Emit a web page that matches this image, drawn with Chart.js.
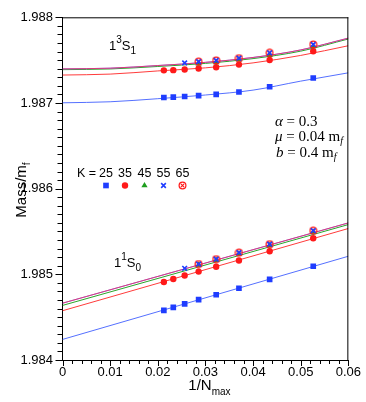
<!DOCTYPE html>
<html>
<head>
<meta charset="utf-8">
<script src="https://cdn.jsdelivr.net/npm/chart.js@4.4.1/dist/chart.umd.min.js"></script>
<style>
  html, body { margin: 0; padding: 0; background: #fff; }
  #wrap { width: 366px; height: 402px; position: relative; }
</style>
</head>
<body>
<div id="wrap"><canvas id="chart"></canvas></div>
<script>
// ===== DATA =====
const N_MAX = [19, 23, 27, 31, 35, 39, 43, 47];          // points run N=19 -> 47
const K_VALUES = ['25', '35', '45', '55', '65'];

// 1^3S_1 (upper group)
const S1_K25 = [1.987291, 1.987189, 1.987128, 1.987101, 1.987086, 1.987076, 1.987068, 1.987064];
const S1_K35 = [1.987603, 1.987501, 1.987448, 1.987417, 1.987402, 1.987391, 1.987383, 1.987381];
const S1_K45 = [1.987660, 1.987558, 1.987505, 1.987474, 1.987459];
const S1_K55 = [1.987683, 1.987585, 1.987523, 1.987497, 1.987482, 1.987467];
const S1_K65 = [1.987683, 1.987585, 1.987523, 1.987497, 1.987482];

// 1^1S_0 (lower group)
const S0_K25 = [1.985094, 1.984941, 1.984838, 1.984762, 1.984705, 1.984655, 1.984614, 1.984579];
const S0_K35 = [1.985421, 1.985269, 1.985162, 1.985089, 1.985032, 1.984986, 1.984945, 1.984911];
const S0_K45 = [1.985494, 1.985338, 1.985240, 1.985166, 1.985110];
const S0_K55 = [1.985509, 1.985352, 1.985253, 1.985177, 1.985120, 1.985070];
const S0_K65 = [1.985509, 1.985352, 1.985253, 1.985177, 1.985120];

// fit curves
const FIT_X_S1 = [0, 0.01, 0.02, 0.03, 0.04, 0.05, 0.06];
const FIT_S1_K25 = [1.987002, 1.987014, 1.987050, 1.987093, 1.987150, 1.987255, 1.987352];
const FIT_S1_K35 = [1.987326, 1.987337, 1.987374, 1.987410, 1.987468, 1.987555, 1.987668];
const FIT_S1_K45 = [1.987389, 1.987397, 1.987426, 1.987462, 1.987518, 1.987605, 1.987747];
const FIT_S1_K55 = [1.987398, 1.987406, 1.987437, 1.987474, 1.987531, 1.987619, 1.987757];
const FIT_S1_K65 = [1.987398, 1.987406, 1.987437, 1.987474, 1.987531, 1.987619, 1.987757];

const FIT_X_S0 = [0, 0.06];
const FIT_S0_K25 = [1.984240, 1.985211];
const FIT_S0_K35 = [1.984575, 1.985535];
const FIT_S0_K45 = [1.984637, 1.985581];
const FIT_S0_K55 = [1.984663, 1.985600];
const FIT_S0_K65 = [1.984663, 1.985600];

const X_TICK_LABELS = ['0', '0.01', '0.02', '0.03', '0.04', '0.05', '0.06'];
const Y_TICK_LABELS = ['1.984', '1.985', '1.986', '1.987', '1.988'];

// ===== STYLE =====
const BLUE  = '#1f3dff';
const RED   = '#ff1a1a';
const GREEN = '#1e9e1e';
const SANS  = '"Liberation Sans", Arial, Helvetica, sans-serif';
const SERIF = '"Liberation Serif", "Times New Roman", serif';

// ⊗ marker for K=65
function makeOtimes() {
  const c = document.createElement('canvas');
  c.width = 9; c.height = 9;
  const g = c.getContext('2d');
  g.strokeStyle = RED;
  g.lineWidth = 1.2;
  g.beginPath(); g.arc(4.5, 4.5, 3.4, 0, Math.PI * 2); g.stroke();
  g.beginPath();
  g.moveTo(2.9, 2.9); g.lineTo(6.1, 6.1);
  g.moveTo(6.1, 2.9); g.lineTo(2.9, 6.1);
  g.stroke();
  return c;
}
const OTIMES = makeOtimes();

const MARKERS = [
  { color: BLUE,  style: 'rect',     radius: 4,   borderWidth: 0 },
  { color: RED,   style: 'circle',   radius: 3.2, borderWidth: 0 },
  { color: GREEN, style: 'triangle', radius: 3.6, borderWidth: 0 },
  { color: BLUE,  style: 'crossRot', radius: 3.3, borderWidth: 1.6 },
  { color: RED,   style: OTIMES,     radius: 4.5, borderWidth: 0 },
];
const LINE_COLORS = ['#5570ff', '#ff3b3b', '#2aa52a', '#6a5cff', 'rgba(255,50,80,0.75)'];

const pts = ys => ys.map((y, i) => ({ x: 1 / N_MAX[i], y }));
const fitPts = (xs, ys) => ys.map((y, i) => ({ x: xs[i], y }));

function pointSet(ys, k, order) {
  const m = MARKERS[k];
  return {
    data: pts(ys),
    showLine: false,
    pointStyle: m.style,
    pointRadius: m.radius,
    pointHoverRadius: m.radius,
    pointBackgroundColor: m.color,
    pointBorderColor: m.color,
    pointBorderWidth: m.borderWidth,
    order,
  };
}
function lineSet(xs, ys, k, curved) {
  return {
    data: fitPts(xs, ys),
    showLine: true,
    pointRadius: 0,
    borderColor: LINE_COLORS[k],
    borderWidth: 1,
    cubicInterpolationMode: curved ? 'monotone' : 'default',
    fill: false,
    order: 20 - k,
  };
}

const datasets = [
  lineSet(FIT_X_S1, FIT_S1_K25, 0, true),
  lineSet(FIT_X_S1, FIT_S1_K35, 1, true),
  lineSet(FIT_X_S1, FIT_S1_K45, 2, true),
  lineSet(FIT_X_S1, FIT_S1_K55, 3, true),
  lineSet(FIT_X_S1, FIT_S1_K65, 4, true),
  lineSet(FIT_X_S0, FIT_S0_K25, 0, false),
  lineSet(FIT_X_S0, FIT_S0_K35, 1, false),
  lineSet(FIT_X_S0, FIT_S0_K45, 2, false),
  lineSet(FIT_X_S0, FIT_S0_K55, 3, false),
  lineSet(FIT_X_S0, FIT_S0_K65, 4, false),
  pointSet(S1_K25, 0, 9), pointSet(S0_K25, 0, 9),
  pointSet(S1_K35, 1, 8), pointSet(S0_K35, 1, 8),
  pointSet(S1_K45, 2, 7), pointSet(S0_K45, 2, 7),
  pointSet(S1_K65, 4, 6), pointSet(S0_K65, 4, 6),
  pointSet(S1_K55, 3, 5), pointSet(S0_K55, 3, 5),
];

// ===== TEXT HELPERS =====
function drawRuns(ctx, runs, x, y) {
  ctx.textAlign = 'left';
  ctx.textBaseline = 'alphabetic';
  runs.forEach(r => {
    ctx.font = r.font;
    ctx.fillText(r.t, x, y + (r.dy || 0));
    x += ctx.measureText(r.t).width + (r.gap || 0);
  });
}
function runsWidth(ctx, runs) {
  return runs.reduce((w, r) => { ctx.font = r.font; return w + ctx.measureText(r.t).width + (r.gap || 0); }, 0);
}

// ===== DECORATION PLUGIN =====
const decor = {
  id: 'decor',
  afterDraw(chart) {
    const ctx = chart.ctx;
    const { left, right, top, bottom } = chart.chartArea;
    const xs = chart.scales.x, ys = chart.scales.y;
    ctx.save();
    ctx.strokeStyle = '#000';
    ctx.lineWidth = 1;

    // frame top + right
    ctx.beginPath();
    ctx.moveTo(left, top + 0.5); ctx.lineTo(right, top + 0.5);
    ctx.moveTo(right - 0.5, top); ctx.lineTo(right - 0.5, bottom);
    ctx.stroke();

    // ticks
    ctx.beginPath();
    xs.ticks.forEach(t => {
      const px = Math.round(xs.getPixelForValue(t.value)) + 0.5;
      const len = t.label ? 6 : 4;
      ctx.moveTo(px, bottom); ctx.lineTo(px, bottom + len);
    });
    ys.ticks.forEach(t => {
      const py = Math.round(ys.getPixelForValue(t.value)) + 0.5;
      const len = t.label ? 7 : 5;
      ctx.moveTo(left, py); ctx.lineTo(left - len, py);
    });
    ctx.stroke();

    ctx.fillStyle = '#000';
    // axis titles
    const xt = [
      { t: '1/N', font: '15px ' + SANS },
      { t: 'max', font: '10px ' + SANS, dy: 5 },
    ];
    drawRuns(ctx, xt, (left + right) / 2 - runsWidth(ctx, xt) / 2 + 4, 390);

    const yt = [
      { t: 'Mass/m', font: '15px ' + SANS },
      { t: 'f', font: '10px ' + SANS, dy: 4 },
    ];
    ctx.save();
    ctx.translate(26, 190);
    ctx.rotate(-Math.PI / 2);
    drawRuns(ctx, yt, -runsWidth(ctx, yt) / 2, 0);
    ctx.restore();

    // state labels
    drawRuns(ctx, [
      { t: '1', font: '13px ' + SANS },
      { t: '3', font: '10px ' + SANS, dy: -7 },
      { t: 'S', font: '13px ' + SANS },
      { t: '1', font: '10px ' + SANS, dy: 4 },
    ], 109, 50);
    drawRuns(ctx, [
      { t: '1', font: '13px ' + SANS },
      { t: '1', font: '10px ' + SANS, dy: -7 },
      { t: 'S', font: '13px ' + SANS },
      { t: '0', font: '10px ' + SANS, dy: 4 },
    ], 114, 267);

    // parameters
    drawRuns(ctx, [
      { t: 'α', font: 'italic 15px ' + SERIF },
      { t: ' = 0.3', font: '15px ' + SERIF },
    ], 275, 126);
    drawRuns(ctx, [
      { t: 'μ', font: 'italic 15px ' + SERIF },
      { t: ' = 0.04 m', font: '15px ' + SERIF },
      { t: 'f', font: 'italic 10px ' + SERIF, dy: 3 },
    ], 275, 141);
    drawRuns(ctx, [
      { t: 'b', font: 'italic 15px ' + SERIF },
      { t: ' = 0.4 m', font: '15px ' + SERIF },
      { t: 'f', font: 'italic 10px ' + SERIF, dy: 3 },
    ], 276, 156.5);

    // legend
    const LEG_X = [106, 125, 144.5, 163.5, 182.5];
    ctx.font = '12.5px ' + SANS;
    ctx.textAlign = 'left';
    ctx.fillText('K =', 77, 177);
    ctx.textAlign = 'center';
    K_VALUES.forEach((k, i) => {
      ctx.fillStyle = '#000';
      ctx.fillText(k, LEG_X[i], 177);
      const m = MARKERS[i];
      ctx.fillStyle = m.color;
      ctx.strokeStyle = m.color;
      ctx.lineWidth = m.borderWidth || 1;
      Chart.helpers.drawPoint(ctx, {
        pointStyle: m.style, radius: m.radius, rotation: 0, borderWidth: m.borderWidth,
      }, LEG_X[i], 185.5);
    });
    ctx.restore();
  },
};

// ===== CHART =====
new Chart(document.getElementById('chart'), {
  type: 'scatter',
  data: { datasets },
  options: {
    responsive: true, maintainAspectRatio: false,
    animation: false,
    layout: { padding: { left: 0, right: 15.5, top: 10, bottom: 0 } },
    plugins: { legend: { display: false }, tooltip: { enabled: false } },
    scales: {
      x: {
        type: 'linear', min: 0, max: 0.06,
        afterFit: s => { s.height = 42; },
        ticks: {
          stepSize: 0.002, autoSkip: false, maxRotation: 0, padding: 5,
          color: '#000', font: { family: SANS, size: 13 },
          callback: v => {
            const i = Math.round(v / 0.01);
            return Math.abs(v - i * 0.01) < 1e-9 ? X_TICK_LABELS[i] : '';
          },
        },
        grid: { display: true, drawOnChartArea: false, drawTicks: false },
        border: { display: true, color: '#000', width: 1 },
      },
      y: {
        type: 'linear', min: 1.984, max: 1.988,
        afterFit: s => { s.width = 62.5; },
        ticks: {
          stepSize: 0.0001, autoSkip: false, padding: 9.5,
          color: '#000', font: { family: SANS, size: 13 },
          callback: v => {
            const i = Math.round((v - 1.984) / 0.001);
            return Math.abs(v - 1.984 - i * 0.001) < 1e-8 ? Y_TICK_LABELS[i] : '';
          },
        },
        grid: { display: true, drawOnChartArea: false, drawTicks: false },
        border: { display: true, color: '#000', width: 1 },
      },
    },
  },
  plugins: [decor],
});
</script>
</body>
</html>
